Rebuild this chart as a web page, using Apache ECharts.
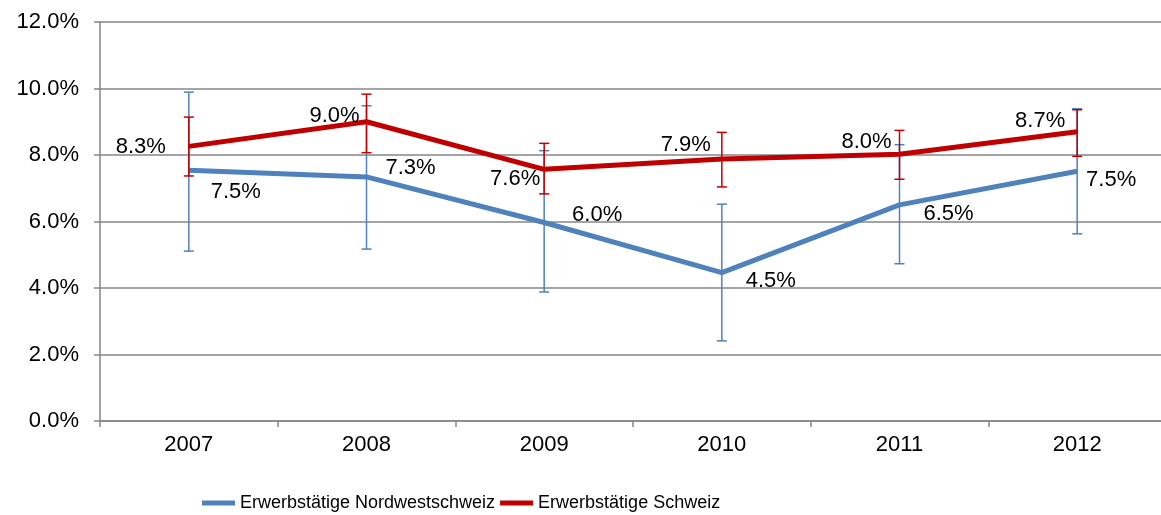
<!DOCTYPE html>
<html>
<head>
<meta charset="utf-8">
<script src="https://cdn.jsdelivr.net/npm/echarts@6/dist/echarts.min.js"></script>
<style>
html,body{margin:0;padding:0;background:#fff;overflow:hidden;}
#chart{width:1166px;height:515px;}
</style>
</head>
<body>
<div id="chart"></div>
<script>
const categories = ['2007', '2008', '2009', '2010', '2011', '2012'];
const seriesNames = ['Erwerbstätige Nordwestschweiz', 'Erwerbstätige Schweiz'];
const nordwest = [7.54, 7.34, 5.97, 4.46, 6.50, 7.51];
const nordwestLow = [5.11, 5.17, 3.88, 2.41, 4.73, 5.63];
const nordwestHigh = [9.89, 9.48, 8.13, 6.52, 8.31, 9.39];
const schweiz = [8.26, 9.00, 7.57, 7.88, 8.02, 8.70];
const schweizLow = [7.37, 8.07, 6.83, 7.04, 7.27, 7.96];
const schweizHigh = [9.14, 9.83, 8.35, 8.68, 8.74, 9.36];
const yTicks = [0, 2, 4, 6, 8, 10, 12];

// label placement (style only)
const blueOffsets = [[47, 22], [44, -9], [53, -8], [49, 8], [49, 9], [34, 9]];
const redOffsets = [[-48, 1], [-32, -6], [-29, 10], [-36, -14], [-33, -12], [-37, -11]];

const BLUE = '#4F81BD';
const RED = '#C00000';
const GRAY = '#868686';
const FONT = '"Liberation Sans", Arial, sans-serif';

function pct(v) { return v.toFixed(1) + '%'; }

function errData(low, high) {
  return low.map((l, i) => [i, l, high[i]]);
}

function errorRender(color) {
  return function (params, api) {
    const i = api.value(0);
    const lo = api.coord([i, api.value(1)]);
    const hi = api.coord([i, api.value(2)]);
    const hw = 5;
    const style = { stroke: color, lineWidth: 1.5, fill: null };
    return {
      type: 'group',
      children: [
        { type: 'line', shape: { x1: lo[0], y1: lo[1], x2: hi[0], y2: hi[1] }, style },
        { type: 'line', shape: { x1: lo[0] - hw, y1: lo[1], x2: lo[0] + hw, y2: lo[1] }, style },
        { type: 'line', shape: { x1: hi[0] - hw, y1: hi[1], x2: hi[0] + hw, y2: hi[1] }, style }
      ]
    };
  };
}

function layoutFrom(offsets) {
  return function (params) {
    const o = offsets[params.dataIndex] || [0, 0];
    return { dx: o[0], dy: o[1], hideOverlap: false };
  };
}

const chart = echarts.init(document.getElementById('chart'), null, { renderer: 'canvas' });
chart.setOption({
  animation: false,
  backgroundColor: '#fff',
  grid: { left: 100, top: 22, right: 0, height: 399, containLabel: false },
  legend: {
    left: 197, top: 489,
    icon: 'rect', itemWidth: 33, itemHeight: 5, itemGap: 5,
    textStyle: { fontFamily: FONT, fontSize: 18, color: '#000' },
    data: seriesNames
  },
  xAxis: {
    type: 'category',
    data: categories,
    boundaryGap: true,
    axisLine: { lineStyle: { color: GRAY, width: 1.5 } },
    axisTick: { show: true, length: 6, alignWithLabel: false, lineStyle: { color: GRAY, width: 1.5 } },
    axisLabel: { color: '#000', fontFamily: FONT, fontSize: 22, margin: 13 },
    splitLine: { show: false }
  },
  yAxis: {
    type: 'value',
    min: yTicks[0], max: yTicks[yTicks.length - 1], interval: 2,
    axisLine: { show: true, lineStyle: { color: GRAY, width: 1.5 } },
    axisTick: { show: true, length: 6, lineStyle: { color: GRAY, width: 1.5 } },
    axisLabel: { color: '#000', fontFamily: FONT, fontSize: 22, margin: 21, formatter: v => pct(v) },
    splitLine: { show: true, lineStyle: { color: GRAY, width: 1.5 } }
  },
  series: [
    {
      name: seriesNames[0] + ' err', type: 'custom', z: 2,
      renderItem: errorRender(BLUE), data: errData(nordwestLow, nordwestHigh),
      encode: { x: 0, y: [1, 2] }, silent: true
    },
    {
      name: seriesNames[0], type: 'line', z: 3,
      data: nordwest,
      symbol: 'circle', symbolSize: 2, showSymbol: true,
      lineStyle: { color: BLUE, width: 5 }, itemStyle: { color: BLUE },
      label: { show: true, position: 'inside', color: '#000', fontFamily: FONT, fontSize: 22,
               formatter: p => pct(p.value) },
      labelLayout: layoutFrom(blueOffsets)
    },
    {
      name: seriesNames[1] + ' err', type: 'custom', z: 4,
      renderItem: errorRender(RED), data: errData(schweizLow, schweizHigh),
      encode: { x: 0, y: [1, 2] }, silent: true
    },
    {
      name: seriesNames[1], type: 'line', z: 5,
      data: schweiz,
      symbol: 'circle', symbolSize: 2, showSymbol: true,
      lineStyle: { color: RED, width: 5 }, itemStyle: { color: RED },
      label: { show: true, position: 'inside', color: '#000', fontFamily: FONT, fontSize: 22,
               formatter: p => pct(p.value) },
      labelLayout: layoutFrom(redOffsets)
    }
  ]
});
</script>
</body>
</html>
